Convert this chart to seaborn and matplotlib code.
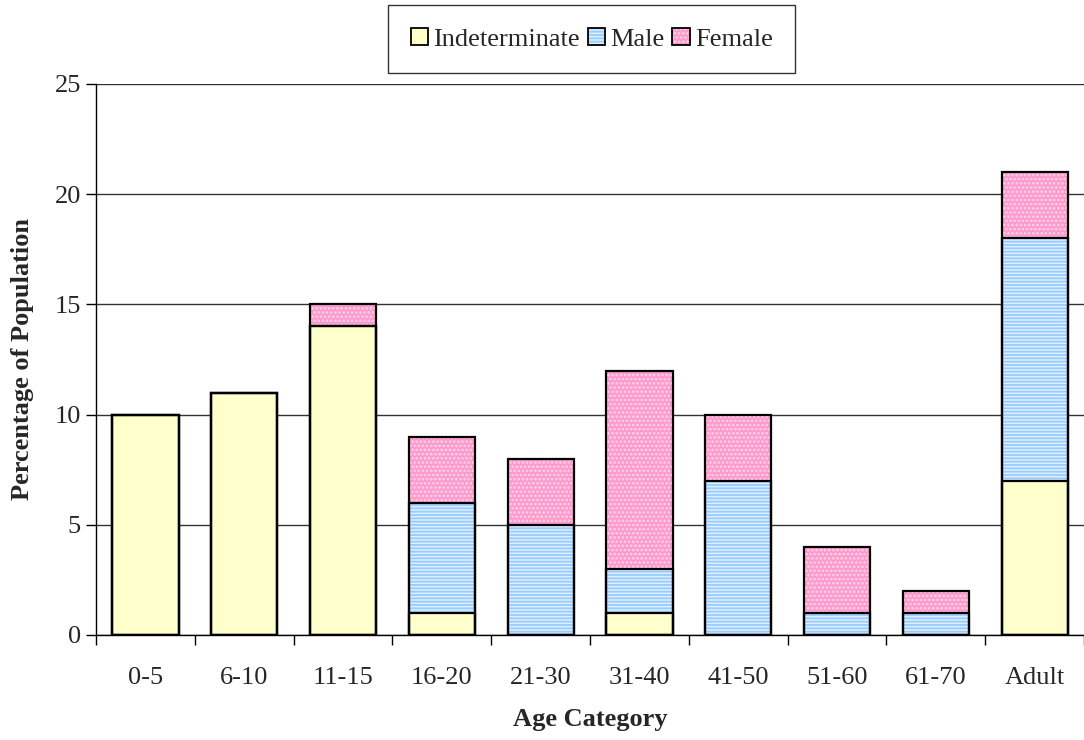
import matplotlib
matplotlib.use("Agg")
import matplotlib.pyplot as plt
from matplotlib.patches import Patch
import seaborn as sns
import numpy as np

categories = ["0-5", "6-10", "11-15", "16-20", "21-30", "31-40", "41-50", "51-60", "61-70", "Adult"]
indeterminate = [10, 11, 14, 1, 0, 1, 0, 0, 0, 7]
male = [0, 0, 0, 5, 5, 2, 7, 1, 1, 11]
female = [0, 0, 1, 3, 3, 9, 3, 3, 1, 3]
series_names = ["Indeterminate", "Male", "Female"]
y_ticks = [0, 5, 10, 15, 20, 25]

sns.set_theme(style="ticks")
plt.rcParams['font.family'] = ['Liberation Serif', 'DejaVu Serif']
plt.rcParams['hatch.linewidth'] = 1.3

FS = 19
fig = plt.figure(figsize=(10.84, 7.4), dpi=100)
ax = fig.add_axes([0.0886, 0.1419, 0.9114, 0.7446])

ind = np.array(indeterminate, dtype=float)
mal = np.array(male, dtype=float)
fem = np.array(female, dtype=float)
cum_ind = ind
cum_male = ind + mal
cum_fem = ind + mal + fem

styles = {
    "Indeterminate": dict(face="#FFFFCC", hatch=None, hcol="#FFFFCC"),
    "Male": dict(face="#DDEEFF", hatch="-----", hcol="#99CCFF"),
    "Female": dict(face="#FF99CC", hatch="....", hcol="#FFD6EA"),
}
W = 0.67
layers = [("Female", cum_fem), ("Male", cum_male), ("Indeterminate", cum_ind)]
for name, heights in layers:
    st = styles[name]
    sns.barplot(x=categories, y=heights, ax=ax, color=st["face"], saturation=1,
                width=W, linewidth=0, edgecolor=st["hcol"], hatch=st["hatch"],
                zorder=2)
    sns.barplot(x=categories, y=heights, ax=ax, fill=False, width=W,
                linewidth=1.6, edgecolor="black", zorder=3)

ax.set_xlim(-0.5, len(categories) - 0.5)
ax.set_ylim(0, 25)
ax.set_yticks(y_ticks)
ax.set_yticklabels([str(t) for t in y_ticks], fontsize=FS)
ax.set_xticks(range(len(categories)))
ax.set_xticklabels(categories, fontsize=FS)
ax.set_xticks(np.arange(-0.5, len(categories), 1.0), minor=True)
ax.tick_params(axis="x", which="major", length=0, pad=23)
ax.tick_params(axis="x", which="minor", length=7, width=1, color="black", direction="out")
ax.tick_params(axis="y", which="major", length=7, width=1, color="black", direction="out", pad=4)

ax.yaxis.grid(True, color="#333333", linewidth=1)
ax.xaxis.grid(False)
ax.set_axisbelow(True)
for s in ["top", "right"]:
    ax.spines[s].set_visible(False)
for s in ["left", "bottom"]:
    ax.spines[s].set_color("black")
    ax.spines[s].set_linewidth(1)
    ax.spines[s].set_zorder(4)

ax.set_xlabel("Age Category", fontsize=FS, fontweight="bold", labelpad=14)
ax.set_ylabel("Percentage of Population", fontsize=FS, fontweight="bold", labelpad=15)

handles = []
for name in series_names:
    st = styles[name]
    p1 = Patch(facecolor=st["face"], edgecolor=st["hcol"], hatch=st["hatch"], linewidth=0)
    p2 = Patch(facecolor="none", edgecolor="black", linewidth=1.3)
    handles.append((p1, p2))
leg = fig.legend(handles, series_names, loc="center", bbox_to_anchor=(0.546, 0.947),
                 ncol=3, fontsize=FS, frameon=True, fancybox=False, edgecolor="black",
                 handlelength=0.65, handleheight=0.65, handletextpad=0.2,
                 columnspacing=0.3, borderpad=0.85, borderaxespad=0)
leg.get_frame().set_linewidth(1)

fig.savefig("out.png", dpi=100)
